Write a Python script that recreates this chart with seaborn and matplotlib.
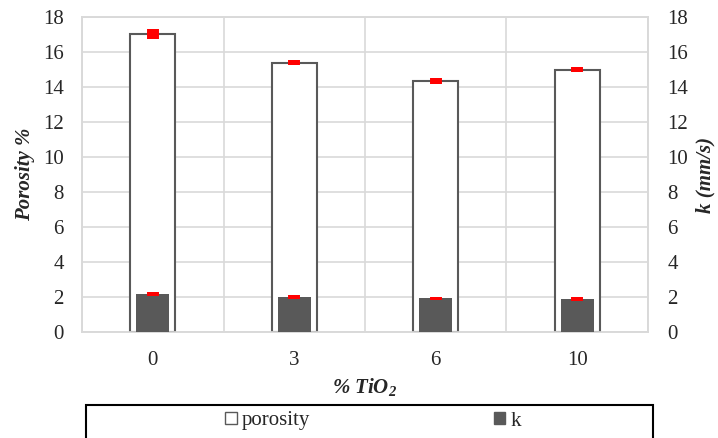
import matplotlib
matplotlib.use("Agg")
import matplotlib.pyplot as plt
import seaborn as sns
import pandas as pd
from matplotlib.patches import Rectangle, Patch

categories = ["0", "3", "6", "10"]
porosity = [17.03, 15.40, 14.34, 15.00]
porosity_err = [0.27, 0.12, 0.16, 0.13]
k_vals = [2.15, 2.02, 1.92, 1.88]
k_err = [0.12, 0.11, 0.10, 0.10]
yticks = [0, 2, 4, 6, 8, 10, 12, 14, 16, 18]

sns.set_theme(style="white")
plt.rcParams['font.family'] = ['Liberation Serif', 'DejaVu Serif']
plt.rcParams['mathtext.fontset'] = 'custom'
plt.rcParams['mathtext.rm'] = 'Liberation Serif'
plt.rcParams['mathtext.it'] = 'Liberation Serif:italic'
plt.rcParams['mathtext.bf'] = 'Liberation Serif:italic:bold'

df = pd.DataFrame({"cat": categories, "porosity": porosity, "k": k_vals})

fig = plt.figure(figsize=(7.18, 4.38), dpi=100)
ax = fig.add_axes([82/718, 1-332/438, (648-82)/718, (332-17)/438])
ax2 = ax.twinx()

grid_c = "#d9d9d9"
sns.barplot(data=df, x="cat", y="porosity", ax=ax, color="white",
            edgecolor="#595959", linewidth=1.5, width=0.32, zorder=3)
sns.barplot(data=df, x="cat", y="k", ax=ax2, color="#595959",
            edgecolor="#595959", linewidth=0, width=0.23, zorder=3)

xs = list(range(len(categories)))
ax.errorbar(xs, porosity, yerr=porosity_err, fmt="none", ecolor="#ff0000",
            elinewidth=8.6, capsize=0, zorder=5)
ax2.errorbar(xs, k_vals, yerr=k_err, fmt="none", ecolor="#ff0000",
             elinewidth=8.6, capsize=0, zorder=5)

for a in (ax, ax2):
    a.set_ylim(0, 18)
    a.set_yticks(yticks)
    a.set_xlim(-0.5, 3.5)
    for s in a.spines.values():
        s.set_color(grid_c)
        s.set_linewidth(1.2)

ax.set_xticks(xs)
ax.set_xticklabels(categories)
ax.set_xticks([-0.5, 0.5, 1.5, 2.5, 3.5], minor=True)
ax.grid(True, axis="y", which="major", color=grid_c, linewidth=1.2, zorder=0)
ax.grid(True, axis="x", which="minor", color=grid_c, linewidth=1.2, zorder=0)
ax.grid(False, axis="x", which="major")
ax.set_axisbelow(True)
ax.tick_params(axis="both", which="both", length=0, labelsize=15)
ax.tick_params(axis="y", pad=13)
ax.tick_params(axis="x", pad=14)
ax2.tick_params(axis="y", length=0, labelsize=15, pad=14)
ax2.grid(False)

ax.set_xlabel(r"$\mathbf{\%\ TiO_2}$", fontsize=15, labelpad=4)
ax.set_ylabel("Porosity %", fontsize=15, fontweight="bold",
              fontstyle="italic", labelpad=6)
ax2.set_ylabel("k (mm/s)", fontsize=15, fontweight="bold",
               fontstyle="italic", labelpad=5)

# legend frame
fig.patches.append(Rectangle((86/718, -0.05), (653-86)/718, 0.05 + 1-405/438,
                             transform=fig.transFigure, fill=False,
                             edgecolor="black", linewidth=1.5))
handles = [Patch(facecolor="white", edgecolor="#595959", label="porosity"),
           Patch(facecolor="#595959", edgecolor="#595959", label="k")]
fig.legend(handles=handles, loc="center", bbox_to_anchor=(373/718, 1-421/438),
           ncol=2, frameon=False, fontsize=15, columnspacing=8.8,
           handlelength=0.55, handleheight=0.55, handletextpad=0.25)

fig.savefig("out.png", dpi=100)
